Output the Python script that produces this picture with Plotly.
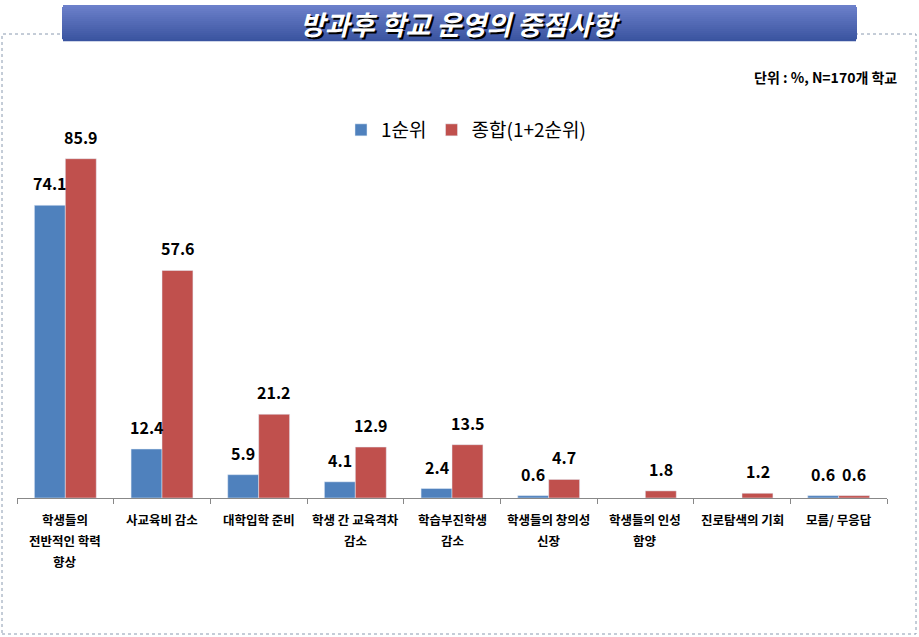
import plotly.graph_objects as go

# 카테고리와 값
categories = [
    "학생들의<br>전반적인 학력<br>향상",
    "사교육비 감소",
    "대학입학 준비",
    "학생 간 교육격차<br>감소",
    "학습부진학생<br>감소",
    "학생들의 창의성<br>신장",
    "학생들의 인성<br>함양",
    "진로탐색의 기회",
    "모름/ 무응답",
]
rank1 = [74.1, 12.4, 5.9, 4.1, 2.4, 0.6, None, None, 0.6]
total = [85.9, 57.6, 21.2, 12.9, 13.5, 4.7, 1.8, 1.2, 0.6]

BLUE = "#4F81BD"
RED = "#C0504D"
FONT = "Noto Sans CJK KR"

W, H = 919, 637
PL, PR, PT, PB = 17, 887, 103, 498  # plot area in pixels


def px_x(p):
    return (p - PL) / (PR - PL)


def px_y(p):
    return (PB - p) / (PB - PT)


fig = go.Figure()
fig.add_trace(go.Bar(x=categories, y=rank1, name="1순위", marker_color=BLUE))
fig.add_trace(go.Bar(x=categories, y=total, name="종합(1+2순위)", marker_color=RED))

annotations = []
# 데이터 레이블
for vals, dx in ((rank1, -15.5), (total, 15.5)):
    for c, v in zip(categories, vals):
        if v is None:
            continue
        annotations.append(dict(
            x=c, y=v, xref="x", yref="y", text=f"{v:.1f}", showarrow=False,
            yanchor="bottom", xshift=dx, yshift=8,
            font=dict(family=FONT, size=16, color="black", weight="bold"),
        ))

# 축 레이블 (한 줄씩)
for c in categories:
    for i, line in enumerate(c.split("<br>")):
        annotations.append(dict(
            x=c, y=px_y(519 + 21 * i), xref="x", yref="paper", text=line,
            showarrow=False, yanchor="middle",
            font=dict(family=FONT, size=12.5, color="black", weight="bold"),
        ))

# 단위
annotations.append(dict(
    x=px_x(899), y=px_y(77), xref="paper", yref="paper",
    text="단위 : %, N=170개 학교", showarrow=False, xanchor="right", yanchor="middle",
    font=dict(family=FONT, size=14, color="black", weight="bold"),
))

# 제목
annotations.append(dict(
    x=px_x(460), y=px_y(23), xref="paper", yref="paper",
    text="방과후 학교 운영의 중점사항", showarrow=False, yanchor="middle",
    font=dict(family=FONT, size=27, color="white", weight="bold", style="italic",
              shadow="2px 2px 0px #000000"),
))

shapes = [
    dict(type="rect", xref="paper", yref="paper",
         x0=px_x(2), x1=px_x(916), y0=px_y(634), y1=px_y(34),
         line=dict(color="#8a9ab0", width=1, dash="dot"), fillcolor="rgba(0,0,0,0)",
         layer="below"),
]

# 제목 상자 (그라데이션 줄무늬)
top_c = (108, 128, 202)
bot_c = (58, 84, 160)
n = 18
y_top, y_bot = 5, 41
for i in range(n):
    t = i / (n - 1)
    col = tuple(round(top_c[k] + (bot_c[k] - top_c[k]) * t) for k in range(3))
    ya = y_top + (y_bot - y_top) * i / n
    yb = y_top + (y_bot - y_top) * (i + 1) / n
    xa, xb = 62, 857
    if i == 0 or i == n - 1:
        xa, xb = 63, 856
    shapes.append(dict(
        type="rect", xref="paper", yref="paper",
        x0=px_x(xa), x1=px_x(xb), y0=px_y(yb + 0.3), y1=px_y(ya),
        line=dict(width=0), fillcolor=f"rgb{col}", layer="above",
    ))

fig.update_layout(
    width=W, height=H,
    margin=dict(l=PL, r=W - PR, t=PT, b=H - PB),
    paper_bgcolor="white", plot_bgcolor="white",
    barmode="group", bargap=0.36, bargroupgap=0,
    font=dict(family=FONT, color="black"),
    showlegend=True,
    legend=dict(
        orientation="h", x=px_x(466), xanchor="center", y=px_y(130), yanchor="middle",
        font=dict(family=FONT, size=19, color="black"),
        itemwidth=30, traceorder="normal",
    ),
    xaxis=dict(
        showline=True, linecolor="#888888", linewidth=1,
        ticks="outside", tickson="boundaries", ticklen=5, tickcolor="#888888",
        showticklabels=False, showgrid=False,
    ),
    yaxis=dict(range=[0, 100], visible=False),
    annotations=annotations,
    shapes=shapes,
)

fig.write_html("out.html", config={"displayModeBar": False},
               post_script="document.body.style.margin='0';")
